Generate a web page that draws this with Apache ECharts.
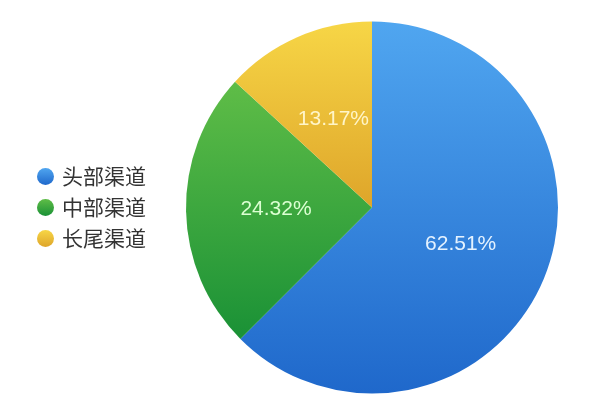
<!DOCTYPE html>
<html><head><meta charset="utf-8">
<script src="https://cdn.jsdelivr.net/npm/echarts@6/dist/echarts.min.js"></script>
<style>html,body{margin:0;padding:0;background:#fff}#c{width:600px;height:418px}</style>
</head><body><div id="c"></div>
<script>
const categories = ['头部渠道', '中部渠道', '长尾渠道'];
const values = [62.51, 24.32, 13.17];
const topColors = ['#50a6f0', '#5fbd47', '#f7d646'];
const bottomColors = ['#1f68cb', '#1a9136', '#dea52a'];
const labelColors = ['#e4f2ff', '#dcffd2', '#fff5c8'];

const chart = echarts.init(document.getElementById('c'));
chart.setOption({
  animation: false,
  legend: {
    orient: 'vertical',
    left: 32,
    top: 161,
    icon: 'circle',
    itemWidth: 17,
    itemHeight: 17,
    itemGap: 10,
    textStyle: { fontSize: 21, lineHeight: 17, color: '#333', fontFamily: 'Noto Sans CJK SC', padding: [0, 0, 0, 3] },
    data: categories
  },
  series: [{
    type: 'pie',
    center: [372, 207.5],
    radius: [0, 186],
    startAngle: 90,
    clockwise: true,
    label: {
      show: true,
      position: 'inside',
      formatter: p => p.value.toFixed(2) + '%',
      fontSize: 21,
      fontFamily: 'Liberation Sans',
      textBorderWidth: 0
    },
    labelLine: { show: false },
    emphasis: { disabled: true },
    data: categories.map((n, i) => ({
      name: n,
      value: values[i],
      itemStyle: {
        color: new echarts.graphic.LinearGradient(0, 0, 0, 1, [
          { offset: 0, color: topColors[i] },
          { offset: 1, color: bottomColors[i] }
        ])
      },
      label: { color: labelColors[i] }
    }))
  }]
});
</script></body></html>
